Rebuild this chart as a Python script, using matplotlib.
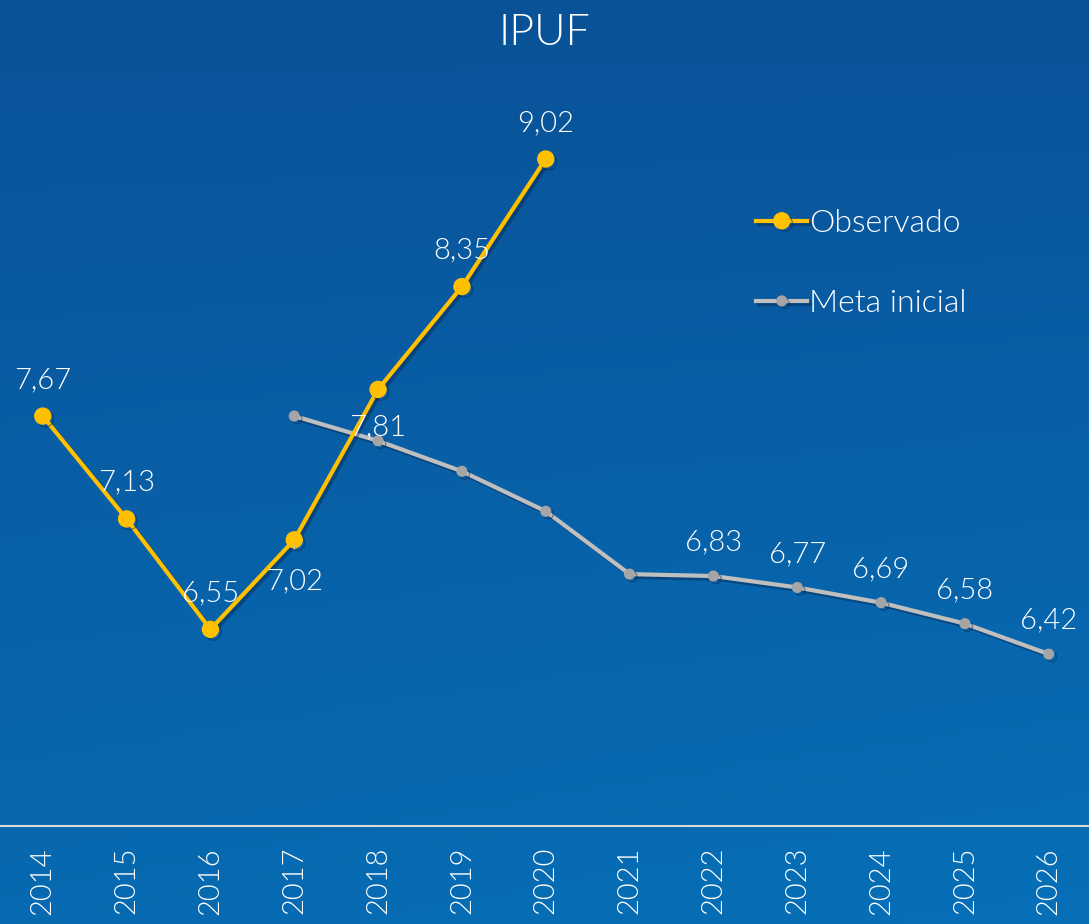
import matplotlib.pyplot as plt
import matplotlib.patheffects as pe
import numpy as np

plt.rcParams['font.family'] = ['Lato', 'DejaVu Sans']
plt.rcParams['font.weight'] = 300

years = list(range(2014, 2027))
obs_years = [2014, 2015, 2016, 2017, 2018, 2019, 2020]
obs_vals = [7.67, 7.13, 6.55, 7.02, 7.81, 8.35, 9.02]
meta_years = [2017, 2018, 2019, 2020, 2021, 2022, 2023, 2024, 2025, 2026]
meta_vals = [7.67, 7.54, 7.38, 7.17, 6.84, 6.83, 6.77, 6.69, 6.58, 6.42]
# which points get a value label, and on which side
obs_label_pos = ['above', 'above', 'above', 'below', 'below', 'above', 'above']
meta_labeled = [2022, 2023, 2024, 2025, 2026]

yellow = '#FFC000'
grey_line = '#BFBFBF'
grey_mark = '#A5A5A5'

fig = plt.figure(figsize=(10.89, 9.24), dpi=100)

# blue gradient backdrop
bg = fig.add_axes([0, 0, 1, 1], zorder=0)
yy, xx = np.mgrid[0:1:200j, 0:1:200j]
t = np.clip(0.8 * yy + 0.2 * xx * yy, 0, 1)
top = np.array([0x0a, 0x52, 0x98]) / 255
bot = np.array([0x06, 0x70, 0xb8]) / 255
img = top[None, None, :] * (1 - t[..., None]) + bot[None, None, :] * t[..., None]
bg.imshow(img, aspect='auto', extent=[0, 1, 0, 1], origin='upper')
bg.axis('off')

ax = fig.add_axes([0, 0.106, 1, 0.894], zorder=1)
ax.patch.set_alpha(0)

shadow = [pe.SimpleLineShadow(offset=(2, -2), shadow_color='#06264d', alpha=0.45), pe.Normal()]

ax.plot(obs_years, obs_vals, color=yellow, lw=3, marker='o', ms=11.5,
        label='Observado', zorder=4, path_effects=shadow)
ax.plot(meta_years, meta_vals, color=grey_line, lw=3, marker='o', ms=7,
        mfc=grey_mark, mec=grey_mark, label='Meta inicial', zorder=3, path_effects=shadow)

def fmt(v):
    return f'{v:.2f}'.replace('.', ',')

fs = 21
for x, v, pos in zip(obs_years, obs_vals, obs_label_pos):
    dy = 26 if pos == 'above' else -27
    if x == 2017:
        ax.annotate(fmt(v), (x, v), xytext=(0, -30), textcoords='offset points',
                    ha='center', va='center', color='white', fontsize=fs, zorder=6,
                    arrowprops=dict(arrowstyle='-', color=grey_line, lw=1,
                                    shrinkA=12, shrinkB=4))
    else:
        ax.annotate(fmt(v), (x, v), xytext=(0, dy), textcoords='offset points',
                    ha='center', va='center', color='white', fontsize=fs, zorder=6)

for x, v in zip(meta_years, meta_vals):
    if x in meta_labeled:
        ax.annotate(fmt(v), (x, v), xytext=(0, 24), textcoords='offset points',
                    ha='center', va='center', color='white', fontsize=fs, zorder=6)

ax.set_xlim(2013.49, 2026.48)
ax.set_ylim(5.517, 9.855)
ax.set_xticks(years)
ax.set_xticklabels([str(y) for y in years], rotation=90, color='white', fontsize=fs)
ax.tick_params(axis='x', length=0, pad=15)
ax.set_yticks([])
for s in ['top', 'left', 'right']:
    ax.spines[s].set_visible(False)
ax.spines['bottom'].set_color('#D9D9D9')
ax.spines['bottom'].set_linewidth(1.5)

leg = ax.legend(loc='upper left', bbox_to_anchor=(0.668, 0.805), bbox_transform=fig.transFigure,
                frameon=False, fontsize=23, labelspacing=1.6, handlelength=1.6,
                handletextpad=0.05, labelcolor='white')

fig.text(0.5, 0.964, 'IPUF', ha='center', va='center', color='white', fontsize=31)

fig.savefig('out.png', dpi=100)
